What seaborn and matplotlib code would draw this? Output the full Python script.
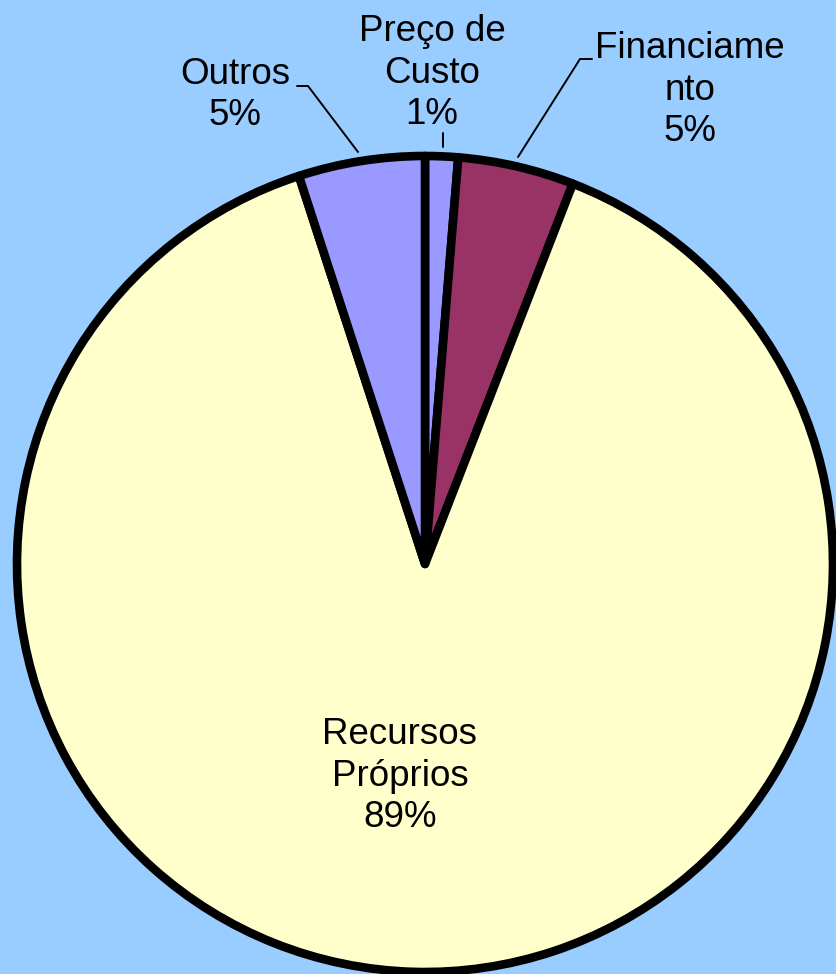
import matplotlib
matplotlib.use("Agg")
import matplotlib.pyplot as plt
import seaborn as sns

sns.set_style("white")
plt.rcParams['font.family'] = ['Liberation Sans', 'DejaVu Sans']

# data (clockwise from 12 o'clock)
categories = ['Preço de\nCusto', 'Financiame\nnto', 'Recursos\nPróprios', 'Outros']
values = [1.3, 4.6, 89.1, 5.0]
pct_labels = ['1%', '5%', '89%', '5%']
colors = ['#9999FF', '#993366', '#FFFFCC', '#9999FF']

W, H = 837, 974
fig = plt.figure(figsize=(W / 100, H / 100), dpi=100)
fig.patch.set_facecolor('#99CCFF')
ax = fig.add_axes([0, 0, 1, 1])
ax.set_facecolor('#99CCFF')

cx, cy, r = 425, H - 564, 408
ax.pie(values, colors=colors, startangle=90, counterclock=False,
       center=(cx, cy), radius=r, frame=True,
       wedgeprops=dict(edgecolor='black', linewidth=6.2, joinstyle='round'))
ax.set_xlim(0, W)
ax.set_ylim(0, H)
ax.set_aspect('equal')
ax.axis('off')

fs = 26.5
# label positions in pixel coords (x, y top-down)
label_pos = [(432, 73), (690, 90), (400, 776), (235, 95)]
for cat, pct, (lx, ly) in zip(categories, pct_labels, label_pos):
    ax.text(lx, H - ly, cat + '\n' + pct, ha='center', va='center',
            fontsize=fs, linespacing=1.25, color='black')

# leader lines
leaders = [
    [(443, 133), (443, 147)],
    [(592, 59), (580, 59), (518, 157)],
    [(297, 86), (308, 86), (358, 152)],
]
for pts in leaders:
    xs = [p[0] for p in pts]
    ys = [H - p[1] for p in pts]
    ax.plot(xs, ys, color='black', linewidth=1.4)

fig.savefig('out.png', dpi=100, facecolor=fig.get_facecolor())
